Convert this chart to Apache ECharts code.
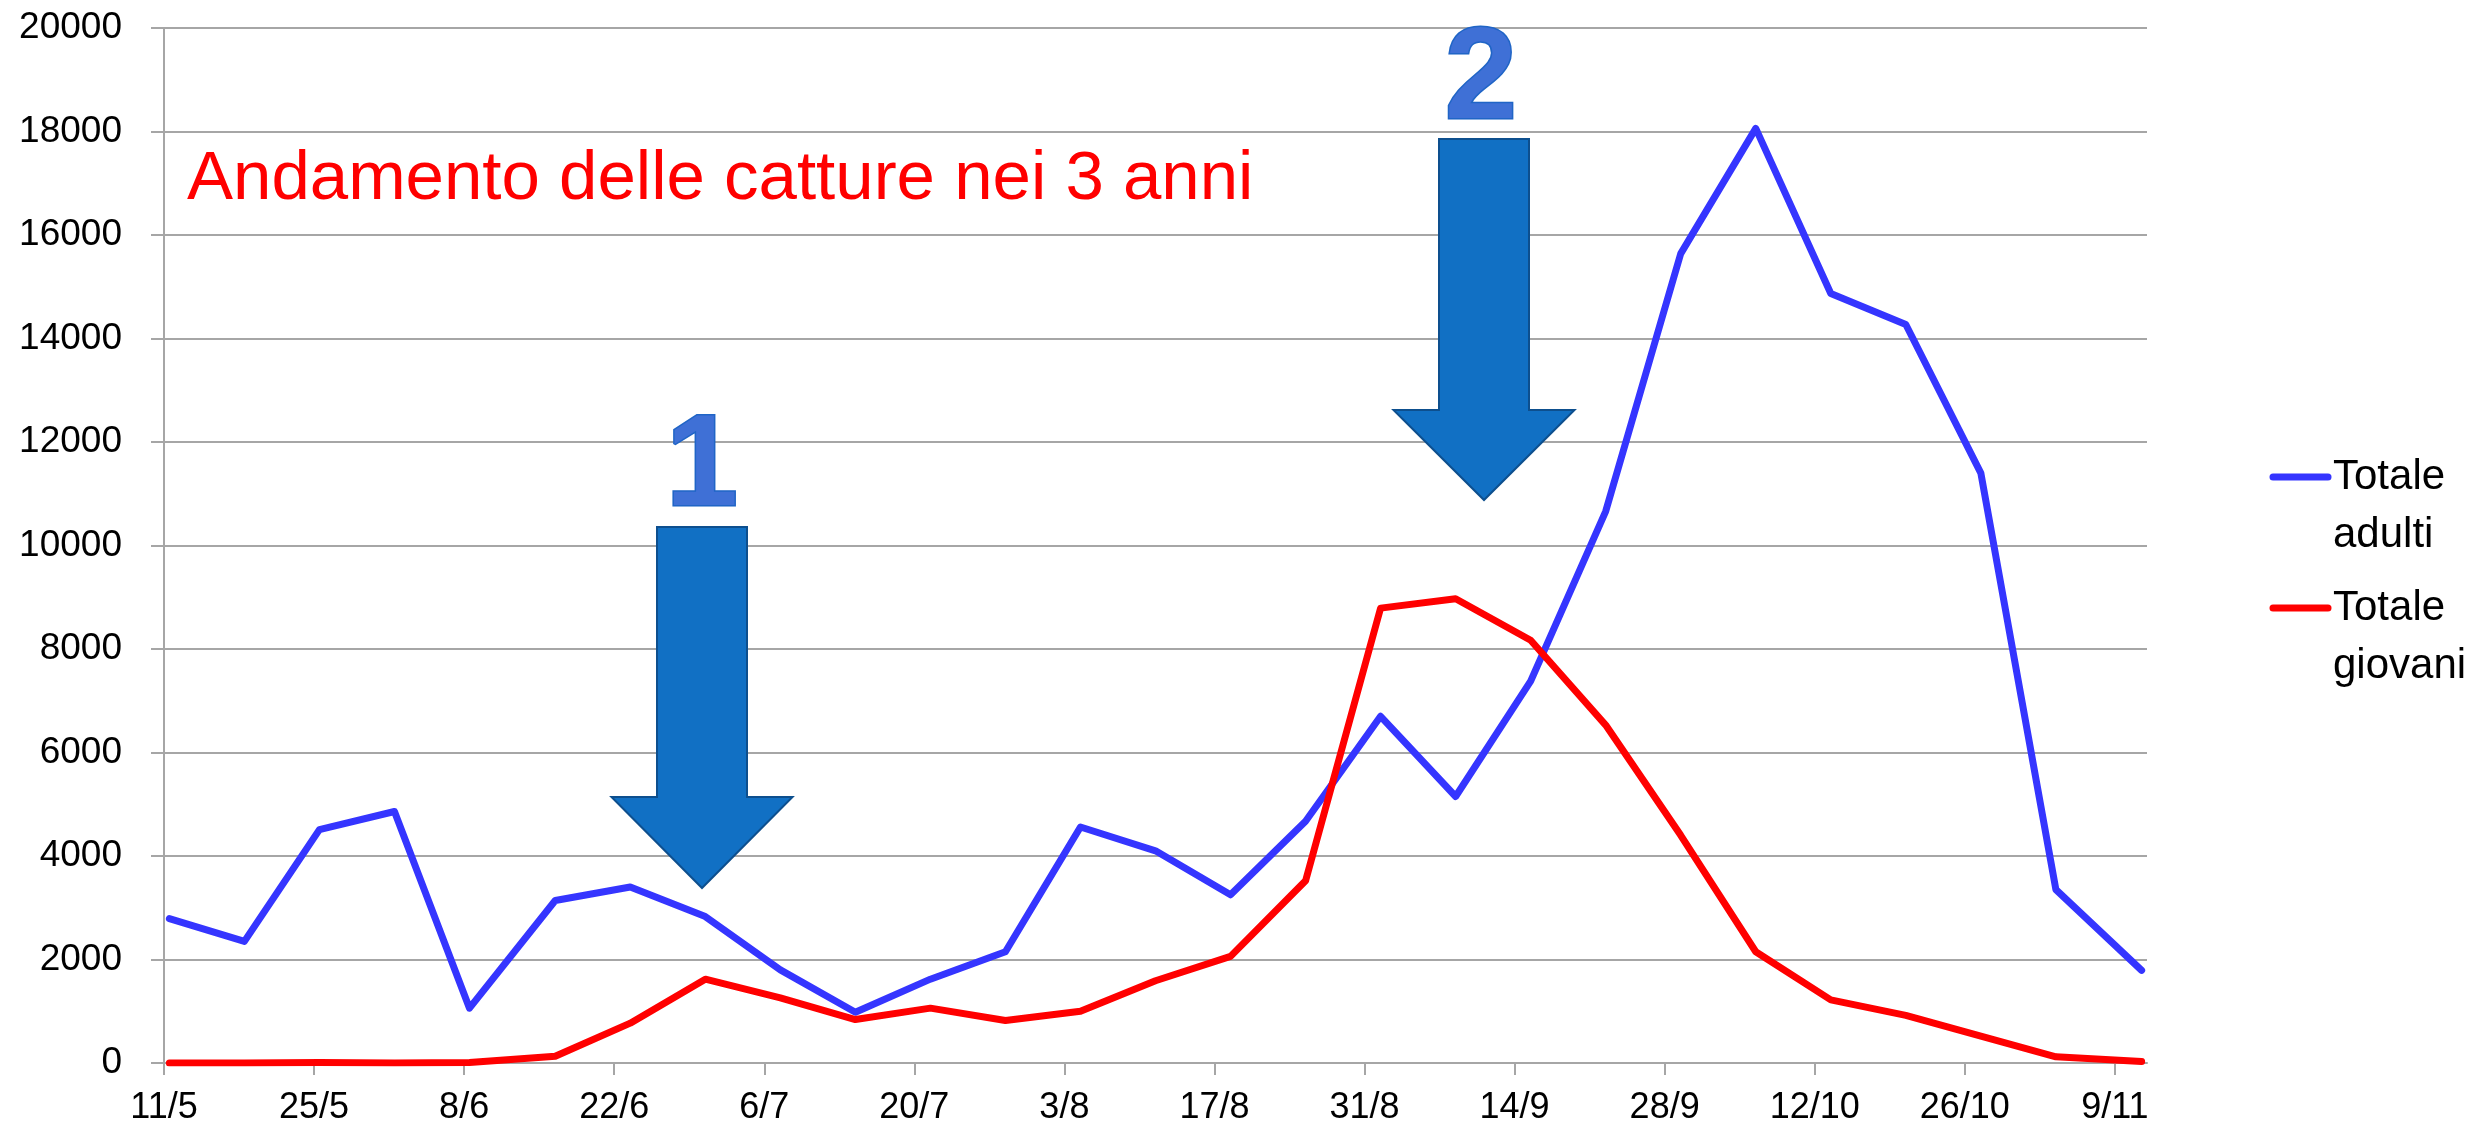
<!DOCTYPE html>
<html>
<head>
<meta charset="utf-8">
<script src="https://cdn.jsdelivr.net/npm/echarts@6/dist/echarts.min.js"></script>
<style>
html,body{margin:0;padding:0;background:#ffffff;}
#chart{width:2479px;height:1129px;}
</style>
</head>
<body>
<div id="chart"></div>
<script>
// ---------------- DATA ----------------
const chartTitle = 'Andamento delle catture nei 3 anni';
const sampleDates = ['11/5','18/5','25/5','1/6','8/6','16/6','23/6','30/6','7/7','14/7','21/7','28/7','4/8','11/8','18/8','25/8','1/9','8/9','15/9','22/9','29/9','6/10','13/10','20/10','27/10','3/11','11/11'];
const totaleAdulti  = [2790,2350,4510,4860,1060,3140,3400,2830,1800,980,1620,2150,4560,4100,3250,4670,6700,5150,7380,10660,15640,18060,14870,14270,11400,3350,1790];
const totaleGiovani = [0,0,10,0,10,130,770,1620,1260,840,1060,820,1000,1590,2060,3520,8790,8970,8170,6530,4400,2150,1220,920,520,120,30];
const xTickLabels = ['11/5','25/5','8/6','22/6','6/7','20/7','3/8','17/8','31/8','14/9','28/9','12/10','26/10','9/11'];
const axisStartDate = '11/5';
const axisEndDate = '12/11';
const yMin = 0, yMax = 20000, yStep = 2000;
const seriesNames = ['Totale adulti', 'Totale giovani'];
const legendLines = [['Totale', 'adulti'], ['Totale', 'giovani']];
const arrowLabels = ['1', '2'];

// ---------------- STYLE ----------------
const FONT = 'Liberation Sans';
const GRID_COLOR = '#a6a6a6';
const seriesColors = ['#3535ff', '#ff0000'];

function dayOf(s) {
  const p = s.split('/').map(Number);
  return (Date.UTC(2001, p[1] - 1, p[0]) - Date.UTC(2001, 4, 11)) / 86400000;
}
const axisMin = dayOf(axisStartDate);
const axisMax = dayOf(axisEndDate);
const tickDays = xTickLabels.map(dayOf);
const labelByDay = {};
xTickLabels.forEach((l, i) => { labelByDay[tickDays[i]] = l; });

// Excel date axis: each date occupies a one-day slot, points are drawn at slot centre
function toPoints(values) {
  return values.map((v, i) => [dayOf(sampleDates[i]) + 0.5, v]);
}

const chart = echarts.init(document.getElementById('chart'));

function arrowPolygon(cx, top, bodyHalf, headBase, headHalf, tip) {
  return [
    [cx - bodyHalf, top], [cx + bodyHalf, top], [cx + bodyHalf, headBase],
    [cx + headHalf, headBase], [cx, tip], [cx - headHalf, headBase], [cx - bodyHalf, headBase]
  ];
}
const arrowGeom = [
  {cx: 702, top: 527, headBase: 797, tip: 888, labelX: 702, labelBase: 514},
  {cx: 1484, top: 139, headBase: 410, tip: 500, labelX: 1481, labelBase: 127}
];

const graphics = [];
arrowGeom.forEach((a, i) => {
  graphics.push({
    type: 'polygon', z: 50,
    shape: {points: arrowPolygon(a.cx, a.top, 45, a.headBase, 90.5, a.tip)},
    style: {fill: '#1170c4', stroke: '#0d4f8e', lineWidth: 2}
  });
  graphics.push({
    type: 'text', z: 50,
    x: a.labelX, y: a.labelBase - 0.3465 * 130,
    style: {
      text: arrowLabels[i],
      font: 'bold 130px "' + FONT + '"',
      textAlign: 'center', textVerticalAlign: 'middle',
      fill: '#3f70d6',
      stroke: '#2065c6', lineWidth: 3, lineJoin: 'round'
    }
  });
});

// legend drawn as graphic: line aligned with first text line (as in the source)
legendLines.forEach((lines, i) => {
  const y0 = 477 + i * 131;
  graphics.push({
    type: 'line', z: 50,
    shape: {x1: 2273, y1: y0, x2: 2328, y2: y0},
    style: {stroke: seriesColors[i], lineWidth: 7, lineCap: 'round'}
  });
  lines.forEach((t, j) => {
    graphics.push({
      type: 'text', z: 50,
      x: 2333, y: y0 + j * 58,
      style: {text: t, font: '42px "' + FONT + '"', fill: '#000000', textAlign: 'left', textVerticalAlign: 'middle'}
    });
  });
});

const option = {
  animation: false,
  backgroundColor: '#ffffff',
  title: {
    text: chartTitle,
    left: 187, top: 145, padding: 0,
    textStyle: {color: '#ff0000', fontFamily: FONT, fontSize: 69, fontWeight: 'normal'}
  },
  grid: {left: 164, right: 332, top: 28, bottom: 66, containLabel: false, outerBoundsMode: 'none'},
  xAxis: {
    type: 'value', min: axisMin, max: axisMax, interval: 14,
    axisLine: {show: true, onZero: false, lineStyle: {color: GRID_COLOR, width: 2}},
    axisTick: {show: true, customValues: tickDays, length: 12, lineStyle: {color: GRID_COLOR, width: 2}},
    axisLabel: {
      show: true, customValues: tickDays,
      formatter: v => labelByDay[v] || '',
      color: '#000000', fontFamily: FONT, fontSize: 36, margin: 27
    },
    splitLine: {show: false}
  },
  yAxis: {
    type: 'value', min: yMin, max: yMax, interval: yStep,
    axisLine: {show: true, lineStyle: {color: GRID_COLOR, width: 2}},
    axisTick: {show: true, length: 13, lineStyle: {color: GRID_COLOR, width: 2}},
    axisLabel: {color: '#000000', fontFamily: FONT, fontSize: 37, margin: 42, formatter: v => String(v)},
    splitLine: {show: true, lineStyle: {color: GRID_COLOR, width: 2}}
  },
  series: [
    {
      name: seriesNames[0], type: 'line', data: toPoints(totaleAdulti),
      symbol: 'none', smooth: false, z: 3,
      lineStyle: {color: seriesColors[0], width: 7, join: 'round', cap: 'round'},
      itemStyle: {color: seriesColors[0]}
    },
    {
      name: seriesNames[1], type: 'line', data: toPoints(totaleGiovani),
      symbol: 'none', smooth: false, z: 4,
      lineStyle: {color: seriesColors[1], width: 7, join: 'round', cap: 'round'},
      itemStyle: {color: seriesColors[1]}
    }
  ],
  graphic: graphics
};
chart.setOption(option);
</script>
</body>
</html>
